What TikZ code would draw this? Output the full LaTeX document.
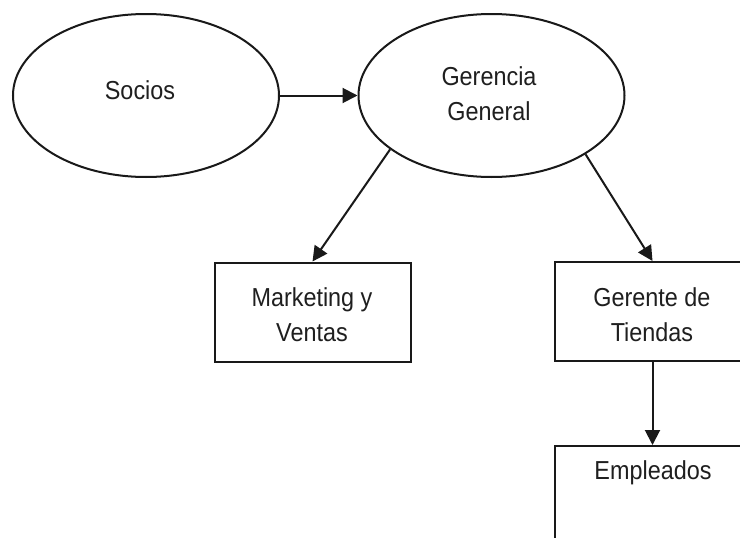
\documentclass[tikz,border=0pt]{standalone}
\usepackage{fontspec}
\setmainfont{Liberation Sans}[FakeStretch=0.9]
\usetikzlibrary{shapes.geometric,arrows.meta}

\tikzset{
  line/.style={line width=2pt, draw=black!90},
  oval/.style={line, ellipse, minimum width=266pt, minimum height=163pt, inner sep=0pt},
  box/.style={line, rectangle, minimum width=196pt, minimum height=99pt, inner sep=0pt},
  lbl/.style={font=\fontsize{26pt}{35pt}\selectfont, text=black!88, align=center, inner sep=0pt},
  flow/.style={line, -{Triangle[length=15pt,width=15pt]}}
}

\begin{document}
\begin{tikzpicture}[x=1pt,y=-1pt]
  \useasboundingbox (0,0) rectangle (740,538);
  \clip (0,0) rectangle (740,538);
  \fill[white] (0,0) rectangle (740,538);

  % top level: partners and general management
  \node[oval] (socios) at (146,95.5) {};
  \node[lbl] (sociost) at (140,90) {Socios};
  \node[oval] (ger) at (491.5,95.5) {};
  \node[lbl] (gert) at (489,93.5) {Gerencia\\General};

  % departments
  \node[box] (mkt) at (312.5,312) {};
  \node[lbl] (mktt) at (312,315) {Marketing y\\Ventas};
  \node[box] (tien) at (652.5,311.5) {};
  \node[lbl] (tient) at (652,315) {Gerente de\\Tiendas};

  % staff
  \node[box] (emp) at (652.5,495.5) {};
  \node[lbl] (empt) at (653,473) {Empleados};

  % reporting lines
  \draw[flow] (socios.east) -- (ger.west);
  \draw[flow] (ger.208) -- (mkt.north);
  \draw[flow] (ger.328) -- (tien.north);
  \draw[flow] (tien.south) -- (emp.north);
\end{tikzpicture}
\end{document}
